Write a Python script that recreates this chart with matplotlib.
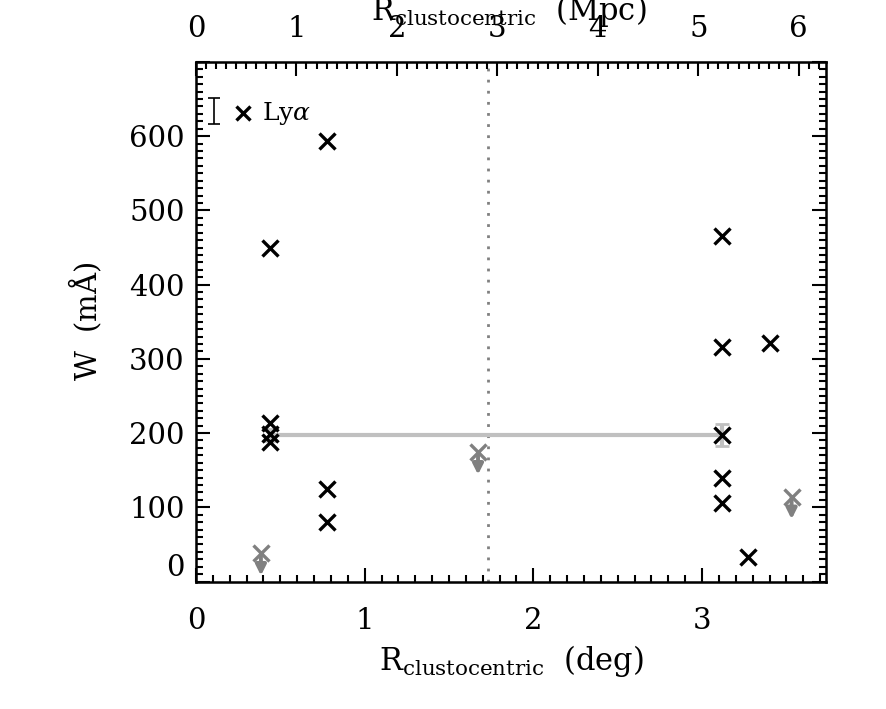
import matplotlib
matplotlib.use("Agg")
import matplotlib.pyplot as plt
from matplotlib.ticker import MultipleLocator
import numpy as np

plt.rcParams['font.family'] = ['DejaVu Serif']
plt.rcParams['mathtext.fontset'] = 'dejavuserif'

# detections (deg, mA)
det_r = [0.44, 0.44, 0.44, 0.44, 0.777, 0.777, 0.777,
         3.118, 3.118, 3.118, 3.118, 3.118, 3.40, 3.272]
det_w = [450, 213, 199, 188, 593, 125, 80,
         465, 316, 197, 140, 106, 322, 33]

# upper limits (grey)
lim_r = [0.385, 1.672, 3.531]
lim_w = [38, 174, 114]
lim_len = 30

# grey line connecting the two matched absorbers
link_r = [0.44, 3.118]
link_w = [197, 197]
link_err = [8, 15]

r_split = 1.731       # dotted vertical line, deg
mpc_per_deg = 1.679
xmax = 3.735

gray = '#808080'
lgray = '#c0c0c0'

fig = plt.figure(figsize=(8.86, 7.09), dpi=100)
ax = fig.add_axes([0.2212, 0.1798, 0.7111, 0.7328])

ax.axvline(r_split, color=gray, ls=(0, (1, 3)), lw=2)
ax.plot(link_r, link_w, color=lgray, lw=3, zorder=2)
ax.errorbar(link_r, link_w, yerr=link_err, fmt='none', ecolor=lgray,
            elinewidth=3, capsize=5, capthick=2, zorder=2)

ax.plot(det_r, det_w, 'x', color='k', ms=11, mew=2.4, zorder=4)

ax.plot(lim_r, lim_w, 'x', color=gray, ms=11, mew=2.4, zorder=3)
for r, w in zip(lim_r, lim_w):
    ax.annotate('', xy=(r, w - lim_len), xytext=(r, w),
                arrowprops=dict(arrowstyle='-|>', color=gray, lw=2.8,
                                mutation_scale=15, shrinkA=0, shrinkB=0),
                zorder=3)

# legend-like symbol
ax.errorbar([0.104], [634], yerr=[17], fmt='none', ecolor='k',
            elinewidth=1.2, capsize=4, capthick=1.2)
ax.plot([0.279], [631], 'x', color='k', ms=10, mew=2.4)
ax.text(0.392, 631, r'Ly$\alpha$', fontsize=18, va='center', ha='left')

ax.set_xlim(0, xmax)
ax.set_ylim(0, 700)
ax.xaxis.set_major_locator(MultipleLocator(1))
ax.xaxis.set_minor_locator(MultipleLocator(0.1))
ax.yaxis.set_major_locator(MultipleLocator(100))
ax.yaxis.set_minor_locator(MultipleLocator(10))
ax.tick_params(which='both', direction='in', right=True, top=False,
               labelsize=21, width=1.5)
ax.tick_params(which='major', length=10)
ax.tick_params(which='minor', length=5)
ax.tick_params(axis='x', pad=18)
ax.tick_params(axis='y', pad=8)
for s in ax.spines.values():
    s.set_linewidth(1.8)

ax.set_yticks(np.arange(0, 701, 100))
ax.set_yticklabels([str(v) if v < 700 else '' for v in range(0, 701, 100)])
ax.get_yticklabels()[0].set_va('bottom')

ax2 = ax.twiny()
ax2.set_xlim(0, xmax * mpc_per_deg)
ax2.xaxis.set_major_locator(MultipleLocator(1))
ax2.xaxis.set_minor_locator(MultipleLocator(0.1))
ax2.tick_params(which='both', direction='in', labelsize=21, width=1.5)
ax2.tick_params(which='major', length=10, pad=14)
ax2.tick_params(which='minor', length=5)

ax.set_xlabel(r'$\mathrm{R_{clustocentric}}$  (deg)', fontsize=22, labelpad=6)
ax.set_ylabel(r'W  (m$\mathrm{\AA}$)', fontsize=21, labelpad=18)
fig.text(0.5745, 0.985, r'$\mathrm{R_{clustocentric}}$  (Mpc)', fontsize=22,
         ha='center', va='center')

fig.savefig('out.png', dpi=100)
